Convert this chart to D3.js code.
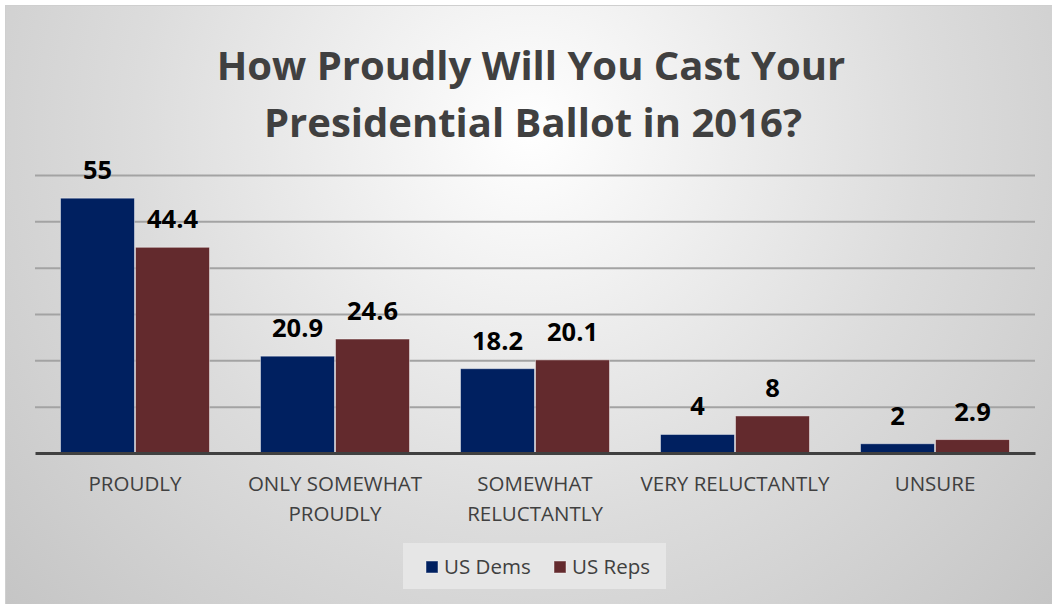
<!DOCTYPE html>
<html>
<head>
<meta charset="utf-8">
<script src="https://cdn.jsdelivr.net/npm/d3@7"></script>
<style>
  html, body { margin: 0; padding: 0; background: #ffffff; }
  svg { display: block; }
  text { font-family: "Open Sans", "DejaVu Sans", sans-serif; }
</style>
</head>
<body>
<svg id="chart" width="1052" height="604"></svg>
<script>
// Survey answers and the share of each party choosing them (%)
const categories = [
  ["PROUDLY"],
  ["ONLY SOMEWHAT", "PROUDLY"],
  ["SOMEWHAT", "RELUCTANTLY"],
  ["VERY RELUCTANTLY"],
  ["UNSURE"]
];
const seriesNames = ["US Dems", "US Reps"];
const demsValues = [55, 20.9, 18.2, 4, 2];
const repsValues = [44.4, 24.6, 20.1, 8, 2.9];
const yTicks = [0, 10, 20, 30, 40, 50, 60];
const seriesColors = ["#002060", "#632a2d"];

const svg = d3.select("#chart");
const W = 1052, H = 604;

// Background: soft radial shading inside a thin frame
const defs = svg.append("defs");
const grad = defs.append("radialGradient")
  .attr("id", "bg").attr("gradientUnits", "userSpaceOnUse")
  .attr("cx", 530).attr("cy", 130).attr("r", 720);
grad.append("stop").attr("offset", "0").attr("stop-color", "#ffffff");
grad.append("stop").attr("offset", "0.55").attr("stop-color", "#dcdcdc");
grad.append("stop").attr("offset", "1").attr("stop-color", "#c4c4c4");

svg.append("rect")
  .attr("x", 5.5).attr("y", 5.5).attr("width", W).attr("height", H)
  .attr("fill", "url(#bg)").attr("stroke", "#cfcfcf").attr("stroke-width", 1);

// Title
const title = svg.append("text")
  .attr("text-anchor", "middle")
  .attr("fill", "#404040")
  .attr("font-weight", "bold")
  .attr("font-size", 40);
title.append("tspan").attr("x", 531).attr("y", 80).text("How Proudly Will You Cast Your");
title.append("tspan").attr("x", 533).attr("y", 137).text("Presidential Ballot in 2016?");

// Scales
const plot = { left: 35, right: 1035, top: 175, bottom: 453 };
const x = d3.scaleBand()
  .domain(d3.range(categories.length))
  .range([plot.left, plot.right])
  .paddingInner(0.25)
  .paddingOuter(0.125);
const xs = d3.scaleBand()
  .domain(d3.range(seriesNames.length))
  .range([0, x.bandwidth()]);
const y = d3.scaleLinear().domain([0, 60]).range([plot.bottom, plot.top]);

// Horizontal gridlines
const grid = d3.axisLeft(y)
  .tickValues(yTicks.slice(1))
  .tickSize(-(plot.right - plot.left))
  .tickFormat("");
const gGrid = svg.append("g")
  .attr("transform", `translate(${plot.left},0)`)
  .call(grid);
gGrid.select(".domain").remove();
gGrid.selectAll(".tick line")
  .attr("stroke", "#a3a3a3")
  .attr("stroke-width", 2);

// Bars
const rows = categories.map((c, i) => [demsValues[i], repsValues[i]]);
const groups = svg.append("g").selectAll("g")
  .data(rows)
  .join("g")
  .attr("transform", (d, i) => `translate(${x(i)},0)`);

groups.selectAll("rect")
  .data(d => d)
  .join("rect")
  .attr("x", (d, j) => xs(j) + 0.5)
  .attr("width", xs.bandwidth() - 1)
  .attr("y", d => y(d))
  .attr("height", d => plot.bottom - y(d))
  .attr("fill", (d, j) => seriesColors[j])
  .attr("stroke", "rgba(255,255,255,0.45)")
  .attr("stroke-width", 1);

// Value labels
groups.selectAll("text")
  .data(d => d)
  .join("text")
  .attr("x", (d, j) => xs(j) + xs.bandwidth() / 2)
  .attr("y", d => y(d) - 19)
  .attr("text-anchor", "middle")
  .attr("font-weight", "bold")
  .attr("font-size", 25.5)
  .attr("fill", "#000000")
  .text(d => d);

// Baseline
const xAxis = d3.axisBottom(x).tickSize(0).tickFormat("");
const gX = svg.append("g")
  .attr("transform", `translate(0,${plot.bottom})`)
  .call(xAxis);
gX.select(".domain")
  .attr("stroke", "#404040")
  .attr("stroke-width", 3);

// Category labels
const catLabels = svg.append("g").selectAll("text")
  .data(categories)
  .join("text")
  .attr("text-anchor", "middle")
  .attr("font-size", 20.5)
  .attr("fill", "#404040");
catLabels.selectAll("tspan")
  .data((d, i) => d.map(line => ({ line, i })))
  .join("tspan")
  .attr("x", d => x(d.i) + x.bandwidth() / 2)
  .attr("y", (d, k) => 491 + k * 30)
  .text(d => d.line);

// Legend
const legend = svg.append("g");
legend.append("rect")
  .attr("x", 403).attr("y", 543).attr("width", 263).attr("height", 46)
  .attr("fill", "#e6e6e6");
const legendX = [426, 554];
seriesNames.forEach((name, j) => {
  legend.append("rect")
    .attr("x", legendX[j]).attr("y", 561)
    .attr("width", 12).attr("height", 12)
    .attr("fill", seriesColors[j])
    .attr("stroke", "rgba(255,255,255,0.45)");
  legend.append("text")
    .attr("x", legendX[j] + 18).attr("y", 574)
    .attr("font-size", 20.5)
    .attr("fill", "#404040")
    .text(name);
});
</script>
</body>
</html>
